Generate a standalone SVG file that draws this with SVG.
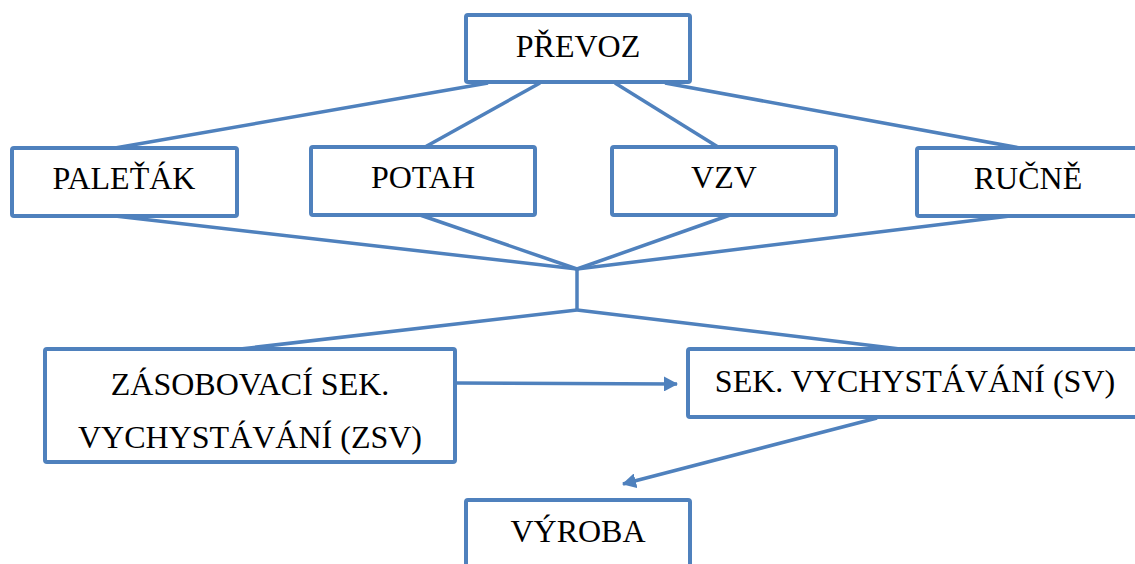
<svg xmlns="http://www.w3.org/2000/svg" width="1135" height="564" viewBox="0 0 1135 564">
<style>
.box{fill:#fff;stroke:#4f81bd;stroke-width:4;stroke-linejoin:round}
.ln{fill:none;stroke:#4f81bd;stroke-width:3.5}
.t{font-family:'Liberation Serif','DejaVu Serif',serif;font-size:32px;fill:#000;text-anchor:middle}
</style>
<defs>
<marker id="ah" markerWidth="14" markerHeight="15" refX="13" refY="7.5" orient="auto" markerUnits="userSpaceOnUse">
<path d="M0,0 L14,7.5 L0,15 Z" fill="#4f81bd"/>
</marker>
</defs>
<g id="connectors">
<line class="ln" x1="488" y1="83" x2="115" y2="148"/>
<line class="ln" x1="540" y1="83" x2="425" y2="147"/>
<line class="ln" x1="615" y1="83" x2="718" y2="147"/>
<line class="ln" x1="665" y1="83" x2="1020" y2="148"/>
<line class="ln" x1="115" y1="216" x2="577" y2="269"/>
<line class="ln" x1="420" y1="215" x2="577" y2="269"/>
<line class="ln" x1="730" y1="215" x2="577" y2="269"/>
<line class="ln" x1="1010" y1="216" x2="577" y2="269"/>
<line class="ln" x1="577" y1="269" x2="577" y2="310"/>
<line class="ln" x1="577" y1="310" x2="240" y2="349"/>
<line class="ln" x1="577" y1="310" x2="900" y2="349"/>
<line class="ln" x1="455" y1="383" x2="677" y2="384" marker-end="url(#ah)"/>
<line class="ln" x1="877" y1="418" x2="623" y2="484" marker-end="url(#ah)"/>
</g>
<g id="prevoz"><rect class="box" x="466" y="15" width="224" height="67" rx="2"/><text class="t" x="578" y="57">PŘEVOZ</text></g>
<g id="paletak"><rect class="box" x="12" y="148" width="225" height="68" rx="2"/><text class="t" x="124" y="189">PALEŤÁK</text></g>
<g id="potah"><rect class="box" x="311" y="147" width="224" height="68" rx="2"/><text class="t" x="423" y="188">POTAH</text></g>
<g id="vzv"><rect class="box" x="612" y="147" width="224" height="68" rx="2"/><text class="t" x="724" y="188">VZV</text></g>
<g id="rucne"><rect class="box" x="917" y="148" width="226" height="68" rx="2"/><text class="t" x="1028" y="189">RUČNĚ</text></g>
<g id="zsv"><rect class="box" x="45" y="349" width="410" height="113" rx="2"/><text class="t" x="250" y="395">ZÁSOBOVACÍ SEK.</text><text class="t" x="250" y="448">VYCHYSTÁVÁNÍ (ZSV)</text></g>
<g id="sv"><rect class="box" x="688" y="349" width="454" height="68" rx="2"/><text class="t" x="915" y="392">SEK. VYCHYSTÁVÁNÍ (SV)</text></g>
<g id="vyroba"><rect class="box" x="466" y="500" width="224" height="80" rx="2"/><text class="t" x="578" y="542">VÝROBA</text></g>
</svg>
